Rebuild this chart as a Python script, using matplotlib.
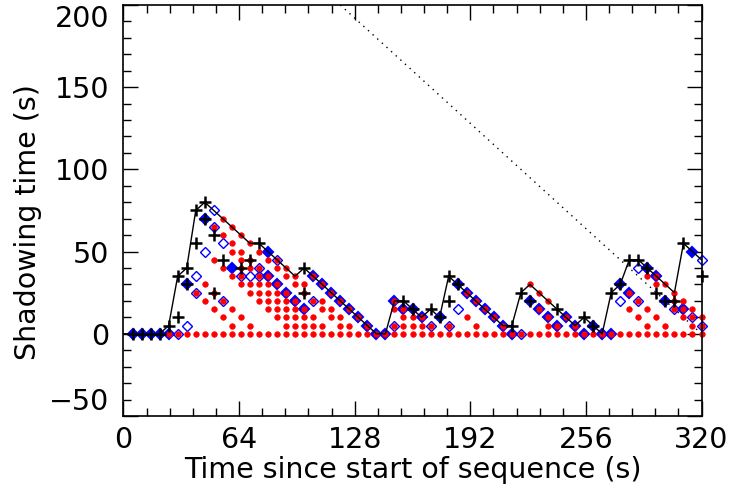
import numpy as np
import matplotlib
matplotlib.use("Agg")
import matplotlib.pyplot as plt
import matplotlib.transforms as mtransforms
from matplotlib.ticker import MultipleLocator, NullFormatter

# black envelope line
line_t = [0, 5, 10, 15, 20, 25, 30, 35, 40, 45, 50, 55, 60, 65, 70, 75, 80, 85, 90, 95,
          100, 105, 110, 115, 120, 125, 130, 135, 140, 145, 150, 155, 160, 165, 170, 175,
          180, 185, 190, 195, 200, 205, 210, 215, 220, 225, 230, 235, 240, 245, 250, 255,
          260, 265, 270, 275, 280, 285, 290, 295, 300, 305, 310, 315, 320]
line_v = [0, 0, 0, 0, 0, 5, 35, 40, 75, 80, 75, 70, 65, 60, 55, 55, 50, 45, 40, 35,
          40, 35, 30, 25, 20, 15, 10, 5, 0, 0, 20, 20, 15, 10, 15, 10,
          35, 30, 25, 20, 15, 10, 5, 5, 25, 30, 25, 20, 15, 10, 5, 10,
          5, 0, 25, 30, 45, 45, 40, 35, 30, 25, 55, 50, 45]

# black crosses
plus_t = [5, 10, 15, 20, 25, 30, 30, 35, 35, 40, 40, 45, 45, 50, 50, 55, 65, 70, 75,
          100, 100, 155, 160, 170, 175, 180, 180, 185, 215, 220, 225, 240, 255, 260,
          270, 275, 280, 285, 290, 295, 300, 305, 310, 320]
plus_v = [0, 0, 0, 0, 5, 35, 10, 40, 30, 75, 55, 80, 70, 60, 25, 45, 40, 45, 55,
          40, 25, 20, 15, 15, 10, 35, 20, 30, 5, 25, 20, 15, 10, 5,
          25, 30, 45, 45, 40, 25, 20, 20, 55, 35]

# thick (filled) blue diamonds
fd_t = [5, 10, 15, 20, 25, 35, 45, 60, 80, 80, 85, 90, 95, 100, 105, 110, 115, 120, 125,
        130, 135, 140, 145, 150, 155, 160, 165, 175, 185, 190, 195, 200, 205, 210, 215,
        225, 230, 235, 240, 245, 250, 255, 260, 265, 270, 275, 280, 290, 295, 300, 310, 315]
fd_v = [0, 0, 0, 0, 0, 30, 70, 40, 50, 35, 30, 25, 20, 15, 35, 30, 25, 20, 15,
        10, 5, 0, 0, 20, 15, 15, 10, 10, 30, 25, 20, 15, 10, 5, 0,
        20, 15, 10, 5, 10, 5, 0, 5, 0, 0, 30, 25, 40, 35, 20, 15, 50]

# open blue diamonds
od_t = [30, 35, 40, 40, 45, 50, 50, 55, 55, 65, 70, 75, 75, 85, 105, 150, 170, 180, 185,
        220, 275, 285, 285, 305, 315, 320, 320]
od_v = [0, 5, 35, 25, 50, 75, 65, 55, 20, 35, 35, 40, 35, 45, 20, 5, 5, 5, 15,
        0, 20, 40, 20, 15, 10, 45, 5]

# red dots, per time column
red = {
    25: [0], 30: [0], 35: [0], 40: [25, 0], 45: [30, 20, 0],
    50: [65, 45, 25, 15, 0], 55: [70, 60, 40, 20, 10, 0],
    60: [65, 55, 50, 35, 15, 5, 0], 65: [60, 50, 45, 40, 35, 30, 10, 0],
    70: [55, 45, 40, 30, 25, 5, 0], 75: [50, 40, 35, 30, 25, 20, 0],
    80: [45, 35, 30, 25, 20, 15, 0], 85: [45, 40, 30, 25, 20, 15, 10, 0],
    90: [40, 35, 25, 20, 15, 10, 5, 0], 95: [35, 30, 20, 15, 10, 5, 0],
    100: [30, 25, 15, 10, 5, 0], 105: [35, 20, 10, 5, 0], 110: [30, 20, 15, 5, 0],
    115: [25, 15, 10, 0], 120: [20, 10, 5, 0], 125: [15, 5, 0], 130: [10, 0],
    135: [5, 0], 140: [0], 145: [0], 150: [20, 15, 5, 0], 155: [15, 10, 5, 0],
    160: [10, 5, 0], 165: [10, 5, 0], 170: [5, 0], 175: [0], 180: [5, 0], 185: [0],
    190: [25, 10, 0], 195: [20, 5, 0], 200: [15, 0], 205: [10, 0], 210: [5, 0],
    215: [0], 220: [0], 225: [30, 0], 230: [25, 15, 0], 235: [20, 10, 5, 0],
    240: [5, 0], 245: [10, 0], 250: [5, 0], 255: [0], 260: [0], 265: [0], 270: [0],
    275: [0], 280: [25, 15, 0], 285: [20, 10, 0], 290: [35, 15, 5, 0],
    295: [35, 30, 10, 0], 300: [30, 5, 0], 305: [25, 20, 15, 0],
    310: [20, 15, 10, 0], 315: [15, 10, 5, 0], 320: [10, 5, 0],
}

# dotted limit line ends
lim_t = [120, 320]
lim_v = [200, 0]

ytick_vals = [-50, 0, 50, 100, 150, 200]

red_t = [t for t, vs in red.items() for v in vs]
red_v = [v for t, vs in red.items() for v in vs]

plt.rcParams['font.family'] = 'DejaVu Sans'
plt.rcParams['font.size'] = 20

fig = plt.figure(figsize=(7.29, 4.97), dpi=100)
ax = fig.add_axes([0.1694, 0.163, 0.7929, 0.827])

ax.plot(lim_t, lim_v, color='k', lw=1, linestyle=(0, (1, 3.5)))
ax.plot(fd_t, fd_v, 'D', ms=4.8, mfc='b', mec='b', mew=1.5, ls='none', clip_on=False)
ax.plot(od_t, od_v, 'D', ms=5.2, mfc='none', mec='b', mew=1, ls='none', clip_on=False)
ax.plot(red_t, red_v, 'o', ms=4, mfc='r', mec='r', mew=0.5, ls='none', clip_on=False)
ax.plot(line_t, line_v, color='k', lw=1)
ax.plot(plus_t, plus_v, '+', ms=8, mec='k', mew=1.8, ls='none', clip_on=False)

ax.set_xlim(0, 320)
ax.set_ylim(-50, 200)
ax.xaxis.set_major_locator(MultipleLocator(64))
ax.xaxis.set_minor_locator(MultipleLocator(12.8))
ax.set_yticks(ytick_vals)
ax.yaxis.set_minor_locator(MultipleLocator(10))
ax.yaxis.set_major_formatter(NullFormatter())
ax.tick_params(which='both', direction='in', top=True, right=True, width=1, color='k')
ax.tick_params(which='major', length=11, labelsize=20.5)
ax.tick_params(axis='x', which='major', pad=7)
ax.tick_params(which='minor', length=6)
for s in ax.spines.values():
    s.set_linewidth(1.2)

# y tick labels drawn by hand so the end ones stay inside the frame
off = mtransforms.ScaledTranslation(-14 / 100, 0, fig.dpi_scale_trans)
ytrans = ax.get_yaxis_transform() + off
for i, val in enumerate(ytick_vals):
    va = 'center_baseline'
    if i == 0:
        va = 'bottom'
    elif i == len(ytick_vals) - 1:
        va = 'top'
    ax.text(0, val, str(val).replace('-', '\u2212'), transform=ytrans,
            ha='right', va=va, fontsize=20.5, clip_on=False)

ax.set_xlabel('Time since start of sequence (s)', fontsize=20.5, labelpad=2)
fig.text(28 / 729, 1 - 222 / 497, 'Shadowing time (s)', rotation=90,
         ha='center', va='center', fontsize=20.5)

fig.savefig('out.png', dpi=100)
